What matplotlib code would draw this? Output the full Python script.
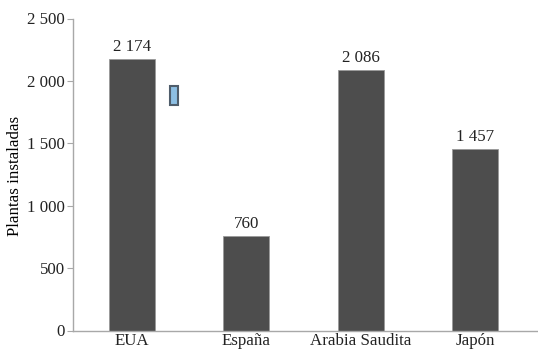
import matplotlib.pyplot as plt
from matplotlib.patches import Rectangle

paises = ['EUA', 'España', 'Arabia Saudita', 'Japón']
plantas = [2174, 760, 2086, 1457]
yticks = [0, 500, 1000, 1500, 2000, 2500]


def miles(v):
    # separador de miles con espacio
    return f'{v:,}'.replace(',', ' ')


plt.rcParams['font.family'] = ['Liberation Serif', 'DejaVu Serif']
plt.rcParams['font.size'] = 12.2

fig = plt.figure(figsize=(5.38, 3.49), dpi=100)
ax = fig.add_axes([73 / 538, 18.5 / 349, 1 - 73 / 538, (330.5 - 18.5) / 349])

x = range(len(paises))
barras = ax.bar(x, plantas, width=0.4, color='#4d4d4d', edgecolor='#9a9a9a', linewidth=0.6)
for xi, v in zip(x, plantas):
    ax.text(xi, v + 30, miles(v), ha='center', va='bottom', color='#222222')

ax.set_xlim(-0.515, 3.55)
ax.set_ylim(0, 2500)
ax.set_xticks(list(x))
ax.set_xticklabels(paises)
ax.set_yticks(yticks)
ax.set_yticklabels([miles(t) for t in yticks])
ax.set_ylabel('Plantas instaladas')
# el borde derecho del texto girado queda en x = 22 px
ax.yaxis.set_label_coords((23 - 73) / 465, (330.5 - 176) / 312)

ax.spines['top'].set_visible(False)
ax.spines['right'].set_visible(False)
for s in ['left', 'bottom']:
    ax.spines[s].set_color('#a8a8a8')
    ax.spines[s].set_linewidth(1)
ax.tick_params(axis='y', length=4, color='#a8a8a8', labelcolor='#222222', pad=2)
ax.tick_params(axis='x', length=0, labelcolor='#222222', pad=2)

# pequeño marcador azul junto a la primera barra
ax.add_patch(Rectangle(((169.5 - 73) / 465, (330.5 - 104.5) / 312), 8 / 465, 19 / 312,
                       transform=ax.transAxes, facecolor='#8dbfe3', edgecolor='#4f5d6b',
                       linewidth=1.5, clip_on=False))

fig.savefig('out.png', dpi=100)
